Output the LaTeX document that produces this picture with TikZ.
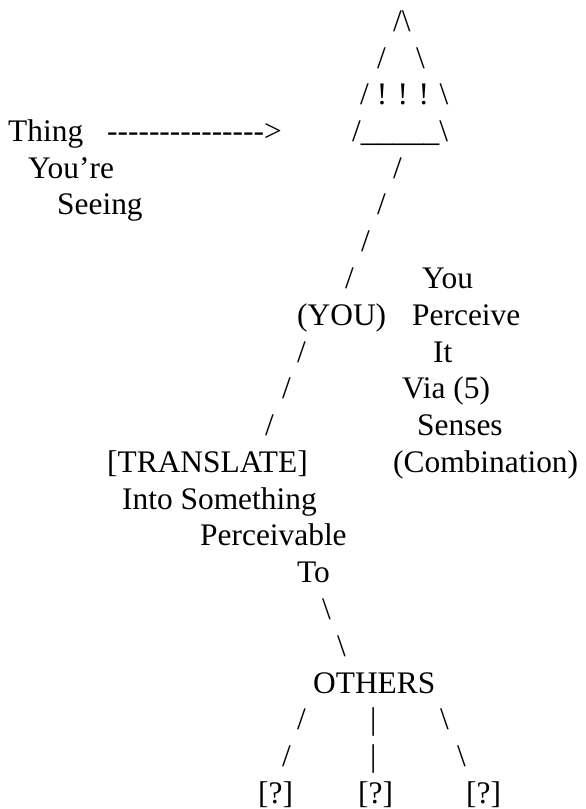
\documentclass[tikz,border=0pt]{standalone}
\usepackage{fontspec}
\setmainfont{Liberation Serif}
\newcommand{\dashrun}{\foreach \k in {1,...,15}{-\kern0pt}>}
\begin{document}
\begin{tikzpicture}[
    x=1pt, y=-1pt,
    t/.style={anchor=base west, inner sep=0pt, font=\fontsize{31.4}{36}\selectfont}
]
    \useasboundingbox (0,0) rectangle (586,809);

    % pyramid
    \node[t] (p0) at (393,31) {/\textbackslash};
    \node[t] (p1l) at (377,68) {/};
    \node[t] (p1r) at (416,68) {\textbackslash};
    \node[t] (p2) at (360,104.5) {/ ! ! ! \textbackslash};
    \node[t] (p3) at (352,141) {/\_\_\_\_\_\textbackslash};

    % thing seen
    \node[t] (thing) at (8,141) {Thing};
    \node[t] (arr) at (107,141) {\dashrun};
    \node[t] (youre) at (28,178) {You’re};
    \node[t] (seeing) at (57,214.5) {Seeing};

    % line down to you
    \node[t] (s4) at (393,178) {/};
    \node[t] (s5) at (377,214.5) {/};
    \node[t] (s6) at (361,251.5) {/};
    \node[t] (s7) at (345,288) {/};
    \node[t] (you) at (297,325) {(YOU)};

    % perceive
    \node[t] (q1) at (422,288) {You};
    \node[t] (q2) at (412,325) {Perceive};
    \node[t] (q3) at (433,362) {It};
    \node[t] (q4) at (402,398.6) {Via (5)};
    \node[t] (q5) at (417,435) {Senses};
    \node[t] (q6) at (393,472) {(Combination)};

    % line down to translate
    \node[t] (s9) at (297,362) {/};
    \node[t] (s10) at (282,398.6) {/};
    \node[t] (s11) at (265,435) {/};
    \node[t] (tr) at (107,472) {[TRANSLATE]};
    \node[t] (tr1) at (122,509) {Into Something};
    \node[t] (tr2) at (200,545.6) {Perceivable};
    \node[t] (tr3) at (297,582) {To};

    % others
    \node[t] (b16) at (322,619) {\textbackslash};
    \node[t] (b17) at (337,656) {\textbackslash};
    \node[t] (oth) at (313,693) {OTHERS};

    \node[t] (l19) at (297,729.5) {/};
    \node[t] (m19) at (370,729.5) {|};
    \node[t] (r19) at (440,729.5) {\textbackslash};
    \node[t] (l20) at (282,766) {/};
    \node[t] (m20) at (370,766) {|};
    \node[t] (r20) at (457,766) {\textbackslash};

    \node[t] (o1) at (258,803) {[?]};
    \node[t] (o2) at (358,803) {[?]};
    \node[t] (o3) at (466,803) {[?]};
\end{tikzpicture}
\end{document}
